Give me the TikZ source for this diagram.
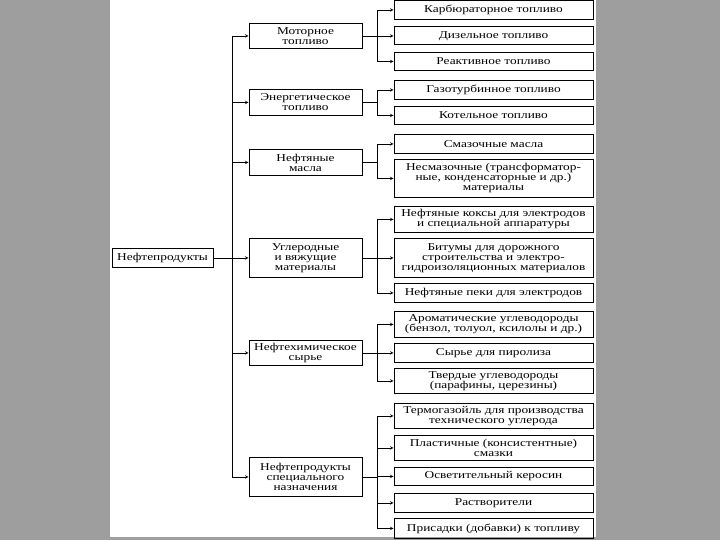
\documentclass[tikz,border=0pt]{standalone}
\usepackage{fontspec}
\setmainfont[FakeStretch=1.27]{Liberation Serif}
\definecolor{pagegray}{RGB}{158,158,158}

\begin{document}
\begin{tikzpicture}[x=1pt, y=-1pt, >=stealth,
    midbox/.style={draw, line width=0.9pt, minimum width=113pt, align=center, inner sep=1pt, font=\fontsize{10.5}{10}\selectfont},
    leafbox/.style={draw, line width=0.9pt, minimum width=199pt, align=center, inner sep=1pt, font=\fontsize{10.5}{10}\selectfont},
    link/.style={line width=0.6pt}]

        % Page
        \fill[pagegray] (0,0) rectangle (720,540);
        \fill[white] (110,0) rectangle (596,537);

        % Root
        \node[draw, line width=0.9pt, minimum width=101pt, minimum height=19pt, inner sep=1pt,
              font=\fontsize{10.5}{10}\selectfont] (root) at (162.5,257.5) {Нефтепродукты};

        % Groups
        \node[midbox, minimum height=25pt] (motor) at (305.5,35.5) {Моторное\\топливо};
        \node[midbox, minimum height=26pt] (energy) at (305.5,102) {Энергетическое\\топливо};
        \node[midbox, minimum height=26pt] (oils) at (305.5,162) {Нефтяные\\масла};
        \node[midbox, minimum height=39pt] (carbon) at (305.5,257.5) {Углеродные\\и вяжущие\\материалы};
        \node[midbox, minimum height=25pt] (petchem) at (305.5,352.5) {Нефтехимическое\\сырье};
        \node[midbox, minimum height=39pt] (special) at (305.5,476.5) {Нефтепродукты\\специального\\назначения};

        % Products
        \node[leafbox, minimum height=19pt] (carb) at (493.5,9.5) {Карбюраторное топливо};
        \node[leafbox, minimum height=18pt] (diesel) at (493.5,35.5) {Дизельное топливо};
        \node[leafbox, minimum height=18pt] (jet) at (493.5,61) {Реактивное топливо};
        \node[leafbox, minimum height=19pt] (gasturb) at (493.5,89.5) {Газотурбинное топливо};
        \node[leafbox, minimum height=18pt] (boiler) at (493.5,115) {Котельное топливо};
        \node[leafbox, minimum height=19pt] (lube) at (493.5,143.5) {Смазочные масла};
        \node[leafbox, minimum height=38pt] (nonlube) at (493.5,178) {Несмазочные (трансформатор-\\ные, конденсаторные и др.)\\материалы};
        \node[leafbox, minimum height=26pt] (coke) at (493.5,219) {Нефтяные коксы для электродов\\и специальной аппаратуры};
        \node[leafbox, minimum height=39pt] (bitumen) at (493.5,257.5) {Битумы для дорожного\\строительства и электро-\\гидроизоляционных материалов};
        \node[leafbox, minimum height=19pt] (pitch) at (493.5,292.5) {Нефтяные пеки для электродов};
        \node[leafbox, minimum height=26pt] (arom) at (493.5,324) {Ароматические углеводороды\\(бензол, толуол, ксилолы и др.)};
        \node[leafbox, minimum height=19pt] (pyro) at (493.5,352.5) {Сырье для пиролиза};
        \node[leafbox, minimum height=25pt] (solid) at (493.5,380.5) {Твердые углеводороды\\(парафины, церезины)};
        \node[leafbox, minimum height=25pt] (thermo) at (493.5,415.5) {Термогазойль для производства\\технического углерода};
        \node[leafbox, minimum height=25pt] (grease) at (493.5,447.5) {Пластичные (консистентные)\\смазки};
        \node[leafbox, minimum height=18pt] (kero) at (493.5,476) {Осветительный керосин};
        \node[leafbox, minimum height=19pt] (solv) at (493.5,502.5) {Растворители};
        \node[leafbox, minimum height=20pt] (addit) at (493.5,528) {Присадки (добавки) к топливу};

        % Trunks
        \coordinate (trunk) at (232,0);
        \coordinate (sub) at (377,0);

        % Root to groups
        \draw[link] (root) -- (root -| trunk);
        \draw[link] (trunk |- motor) -- (trunk |- special);
        \draw[link, ->] (trunk |- motor) -- (motor);
        \draw[link, ->] (trunk |- energy) -- (energy);
        \draw[link, ->] (trunk |- oils) -- (oils);
        \draw[link, ->] (trunk |- carbon) -- (carbon);
        \draw[link, ->] (trunk |- petchem) -- (petchem);
        \draw[link, ->] (trunk |- special) -- (special);

        % Motor fuels
        \draw[link] (motor) -- (motor -| sub);
        \draw[link] (sub |- carb) -- (sub |- jet);
        \draw[link, ->] (sub |- carb) -- (carb);
        \draw[link, ->] (sub |- diesel) -- (diesel);
        \draw[link, ->] (sub |- jet) -- (jet);

        % Energy fuels
        \draw[link] (energy) -- (energy -| sub);
        \draw[link] (sub |- gasturb) -- (sub |- boiler);
        \draw[link, ->] (sub |- gasturb) -- (gasturb);
        \draw[link, ->] (sub |- boiler) -- (boiler);

        % Oils
        \draw[link] (oils) -- (oils -| sub);
        \draw[link] (sub |- lube) -- (sub |- nonlube);
        \draw[link, ->] (sub |- lube) -- (lube);
        \draw[link, ->] (sub |- nonlube) -- (nonlube);

        % Carbon and binders
        \draw[link] (carbon) -- (carbon -| sub);
        \draw[link] (sub |- coke) -- (sub |- pitch);
        \draw[link, ->] (sub |- coke) -- (coke);
        \draw[link, ->] (sub |- bitumen) -- (bitumen);
        \draw[link, ->] (sub |- pitch) -- (pitch);

        % Petrochemical feedstock
        \draw[link] (petchem) -- (petchem -| sub);
        \draw[link] (sub |- arom) -- (sub |- solid);
        \draw[link, ->] (sub |- arom) -- (arom);
        \draw[link, ->] (sub |- pyro) -- (pyro);
        \draw[link, ->] (sub |- solid) -- (solid);

        % Special products
        \draw[link] (special) -- (special -| sub);
        \draw[link] (sub |- thermo) -- (sub |- addit);
        \draw[link, ->] (sub |- thermo) -- (thermo);
        \draw[link, ->] (sub |- grease) -- (grease);
        \draw[link, ->] (sub |- kero) -- (kero);
        \draw[link, ->] (sub |- solv) -- (solv);
        \draw[link, ->] (sub |- addit) -- (addit);

    \end{tikzpicture}
\end{document}
